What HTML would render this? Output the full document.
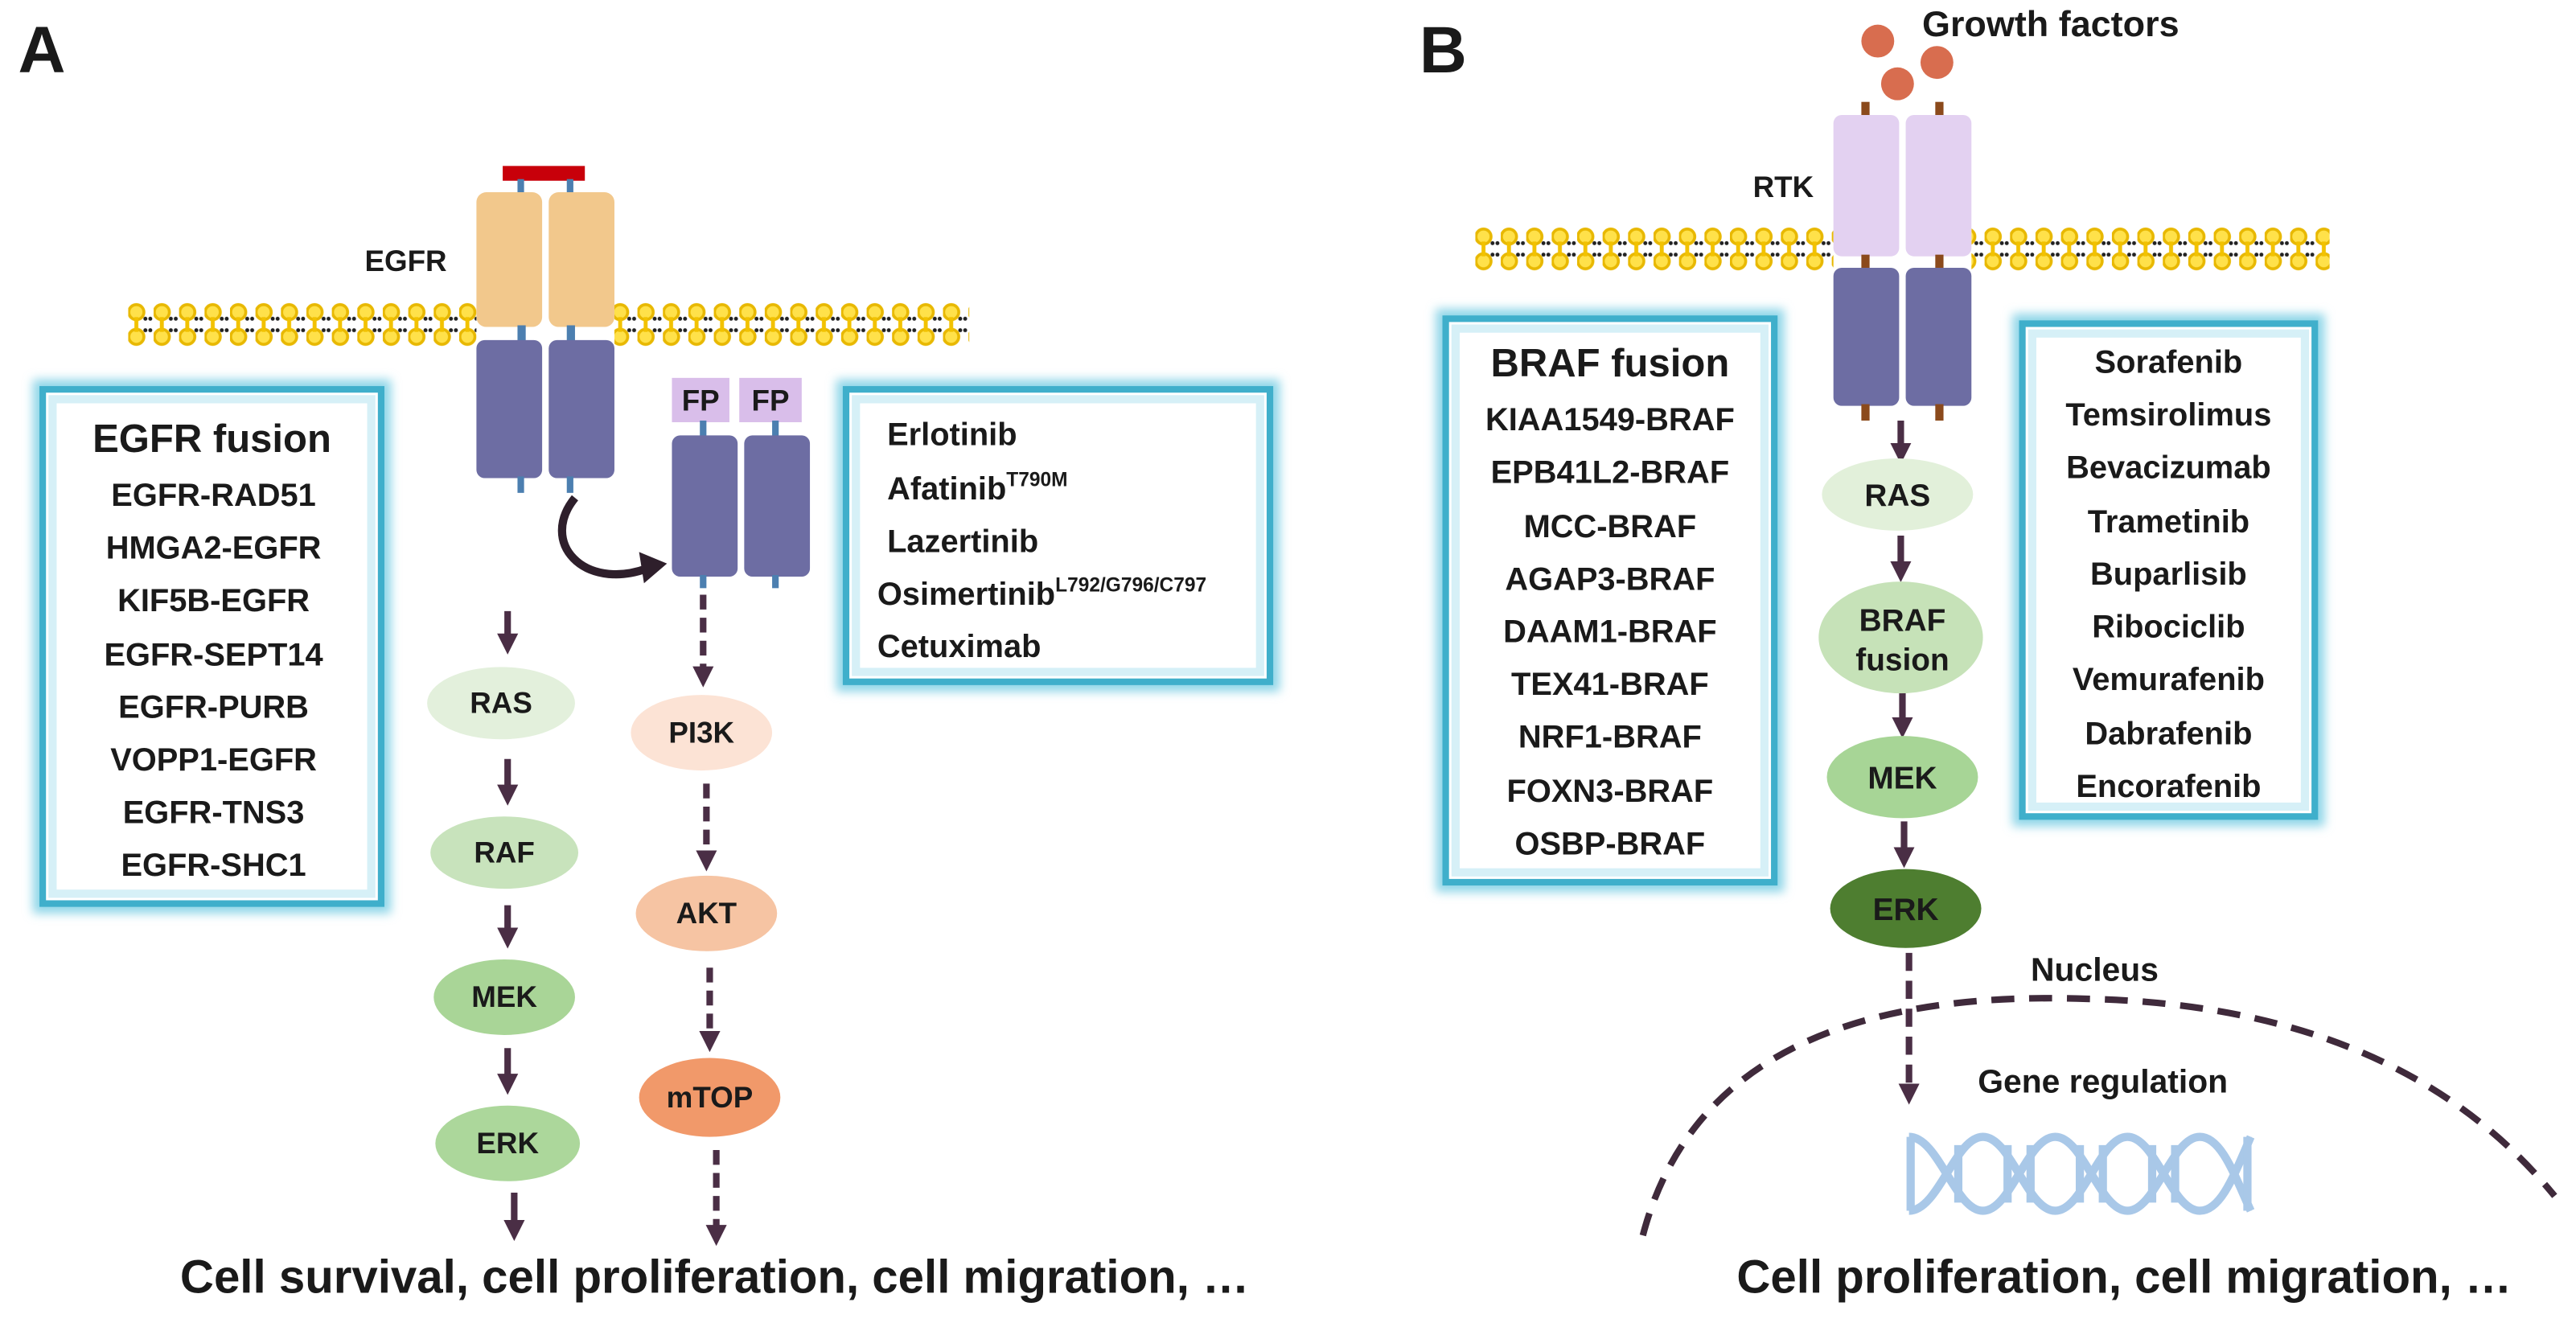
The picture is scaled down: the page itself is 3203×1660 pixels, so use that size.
<!DOCTYPE html>
<html><head><meta charset="utf-8"><style>
html,body{margin:0;padding:0;background:#fff;}
svg{display:block;}
text{font-family:"Liberation Sans",Arial,sans-serif;font-weight:bold;fill:#1a1a1a;}
</style></head><body>
<svg width="3203" height="1660" viewBox="0 0 1568 812.6" xmlns="http://www.w3.org/2000/svg">
<defs>
<filter id="blur" x="-10%" y="-10%" width="120%" height="120%"><feGaussianBlur stdDeviation="3"/></filter>
<g id="memcell">
<circle cx="5" cy="6" r="4.6" fill="#FFE14A" stroke="#E8B800" stroke-width="1.8"/>
<circle cx="5" cy="21" r="4.6" fill="#FFE14A" stroke="#E8B800" stroke-width="1.8"/>
<rect x="3.8" y="9" width="2.4" height="9" fill="#F2C200"/>
<circle cx="10.5" cy="10" r="1.2" fill="#222"/><circle cx="13.5" cy="10" r="1.2" fill="#222"/>
<circle cx="10.5" cy="17" r="1.2" fill="#222"/><circle cx="13.5" cy="17" r="1.2" fill="#222"/>
</g>
<pattern id="memA" x="78" y="184" width="15.5" height="30" patternUnits="userSpaceOnUse"><use href="#memcell"/></pattern>
<pattern id="memB" x="898" y="138" width="15.5" height="30" patternUnits="userSpaceOnUse"><use href="#memcell"/></pattern>
<marker id="ah" viewBox="0 0 10 10" refX="5" refY="5" markerWidth="3.2" markerHeight="3.2" orient="auto"><path d="M0,0 L10,5 L0,10 z" fill="#4A2E45"/></marker>
</defs>
<rect width="1568" height="812.6" fill="#fff"/>

<!-- Panel A -->
<text x="11" y="44" font-size="40" fill="#000">A</text>

<rect x="78" y="184" width="212" height="28" fill="url(#memA)"/>
<rect x="374" y="184" width="216" height="28" fill="url(#memA)"/>

<rect x="306" y="101" width="50" height="9" fill="#C8000A"/>
<rect x="315" y="109" width="4" height="9" fill="#4C7FB0"/>
<rect x="345" y="109" width="4" height="9" fill="#4C7FB0"/>
<rect x="290" y="117" width="40" height="82" rx="6" fill="#F2C88C"/>
<rect x="334" y="117" width="40" height="82" rx="6" fill="#F2C88C"/>
<rect x="315" y="198" width="5" height="10" fill="#4C7FB0"/>
<rect x="345" y="198" width="5" height="10" fill="#4C7FB0"/>
<rect x="290" y="207" width="40" height="84" rx="5" fill="#6D6DA3"/>
<rect x="334" y="207" width="40" height="84" rx="5" fill="#6D6DA3"/>
<rect x="315" y="290" width="4" height="10" fill="#4C7FB0"/>
<rect x="345" y="290" width="4" height="10" fill="#4C7FB0"/>
<text x="222" y="165" font-size="18">EGFR</text>

<path d="M350,303 C328,330 355,360 394,346" fill="none" stroke="#2E1F2B" stroke-width="5"/>
<path d="M389,336 L406,343 L392,355 z" fill="#2E1F2B"/>

<rect x="409" y="230" width="35" height="27" fill="#D9BEEA"/>
<rect x="450" y="230" width="38" height="27" fill="#D9BEEA"/>
<text x="426.5" y="250" font-size="18" text-anchor="middle">FP</text>
<text x="469" y="250" font-size="18" text-anchor="middle">FP</text>
<rect x="426" y="256" width="4" height="10" fill="#4C7FB0"/>
<rect x="470" y="256" width="4" height="10" fill="#4C7FB0"/>
<rect x="409" y="265" width="40" height="86" rx="5" fill="#6D6DA3"/>
<rect x="453" y="265" width="40" height="86" rx="5" fill="#6D6DA3"/>
<rect x="426" y="350" width="4" height="8" fill="#4C7FB0"/>
<rect x="470" y="350" width="4" height="8" fill="#4C7FB0"/>

<!-- boxes A -->
<g>
<rect x="26" y="237" width="206" height="313" fill="none" stroke="#8FD6E8" stroke-width="12" filter="url(#blur)"/>
<rect x="26" y="237" width="206" height="313" fill="#fff" stroke="#3FAFCB" stroke-width="4"/>
<rect x="32" y="243" width="194" height="301" fill="none" stroke="#D6F0F7" stroke-width="5"/>
</g>
<text x="129" y="275" font-size="24" text-anchor="middle">EGFR fusion</text>
<g font-size="19.5" text-anchor="middle">
<text x="130" y="308">EGFR-RAD51</text>
<text x="130" y="340">HMGA2-EGFR</text>
<text x="130" y="372">KIF5B-EGFR</text>
<text x="130" y="405">EGFR-SEPT14</text>
<text x="130" y="437">EGFR-PURB</text>
<text x="130" y="469">VOPP1-EGFR</text>
<text x="130" y="501">EGFR-TNS3</text>
<text x="130" y="533">EGFR-SHC1</text>
</g>
<g>
<rect x="515" y="237" width="258" height="178" fill="none" stroke="#8FD6E8" stroke-width="12" filter="url(#blur)"/>
<rect x="515" y="237" width="258" height="178" fill="#fff" stroke="#3FAFCB" stroke-width="4"/>
<rect x="521" y="243" width="246" height="166" fill="none" stroke="#D6F0F7" stroke-width="5"/>
</g>
<g font-size="19.5">
<text x="540" y="271">Erlotinib</text>
<text x="540" y="304">Afatinib<tspan font-size="12" dy="-8">T790M</tspan></text>
<text x="540" y="336">Lazertinib</text>
<text x="534" y="368">Osimertinib<tspan font-size="12" dy="-8">L792/G796/C797</tspan></text>
<text x="534" y="400">Cetuximab</text>
</g>

<!-- A pathway -->
<g stroke="#4A2E45" stroke-width="4" marker-end="url(#ah)">
<line x1="309" y1="372" x2="309" y2="392"/>
<line x1="309" y1="462" x2="309" y2="484"/>
<line x1="309" y1="551" x2="309" y2="571"/>
<line x1="309" y1="638" x2="309" y2="660"/>
<line x1="313" y1="726" x2="313" y2="749"/>
</g>
<g stroke="#4A2E45" stroke-width="4" stroke-dasharray="9,5" marker-end="url(#ah)">
<line x1="428" y1="362" x2="428" y2="412"/>
<line x1="430" y1="477" x2="430" y2="524"/>
<line x1="432" y1="589" x2="432" y2="634"/>
<line x1="436" y1="700" x2="436" y2="752"/>
</g>
<ellipse cx="305" cy="428" rx="45" ry="22" fill="#E3F0DC"/>
<ellipse cx="307" cy="519" rx="45" ry="22" fill="#C8E3BC"/>
<ellipse cx="307" cy="607" rx="43" ry="23" fill="#A9D597"/>
<ellipse cx="309" cy="696" rx="44" ry="23" fill="#ACD79B"/>
<ellipse cx="427" cy="446" rx="43" ry="23" fill="#FCE3D5"/>
<ellipse cx="430" cy="556" rx="43" ry="23" fill="#F6C4A3"/>
<ellipse cx="432" cy="668" rx="43" ry="24" fill="#F1996A"/>
<g font-size="18" text-anchor="middle">
<text x="305" y="434">RAS</text>
<text x="307" y="525">RAF</text>
<text x="307" y="613">MEK</text>
<text x="309" y="702">ERK</text>
<text x="427" y="452">PI3K</text>
<text x="430" y="562">AKT</text>
<text x="432" y="674">mTOP</text>
</g>
<text x="435" y="787" font-size="28.5" text-anchor="middle">Cell survival, cell proliferation, cell migration, …</text>

<!-- Panel B -->
<text x="864" y="44" font-size="40" fill="#000">B</text>
<text x="1170" y="22" font-size="22">Growth factors</text>
<circle cx="1143" cy="25" r="10" fill="#D86D4F"/>
<circle cx="1155" cy="51" r="10" fill="#D86D4F"/>
<circle cx="1179" cy="38" r="10" fill="#D86D4F"/>

<rect x="898" y="138" width="218" height="28" fill="url(#memB)"/>
<rect x="1200" y="138" width="218" height="28" fill="url(#memB)"/>
<rect x="1133" y="62" width="5" height="9" fill="#8B4A1C"/>
<rect x="1178" y="62" width="5" height="9" fill="#8B4A1C"/>
<rect x="1116" y="70" width="40" height="86" rx="5" fill="#E3D1F1"/>
<rect x="1160" y="70" width="40" height="86" rx="5" fill="#E3D1F1"/>
<rect x="1133" y="155" width="5" height="9" fill="#8B4A1C"/>
<rect x="1178" y="155" width="5" height="9" fill="#8B4A1C"/>
<rect x="1116" y="163" width="40" height="84" rx="5" fill="#6D6DA3"/>
<rect x="1160" y="163" width="40" height="84" rx="5" fill="#6D6DA3"/>
<rect x="1133" y="246" width="5" height="10" fill="#8B4A1C"/>
<rect x="1178" y="246" width="5" height="10" fill="#8B4A1C"/>
<text x="1067" y="120" font-size="18">RTK</text>

<g>
<rect x="880" y="194" width="200" height="343" fill="none" stroke="#8FD6E8" stroke-width="12" filter="url(#blur)"/>
<rect x="880" y="194" width="200" height="343" fill="#fff" stroke="#3FAFCB" stroke-width="4"/>
<rect x="886" y="200" width="188" height="331" fill="none" stroke="#D6F0F7" stroke-width="5"/>
</g>
<text x="980" y="229" font-size="24" text-anchor="middle">BRAF fusion</text>
<g font-size="19.5" text-anchor="middle">
<text x="980" y="262">KIAA1549-BRAF</text>
<text x="980" y="294">EPB41L2-BRAF</text>
<text x="980" y="327">MCC-BRAF</text>
<text x="980" y="359">AGAP3-BRAF</text>
<text x="980" y="391">DAAM1-BRAF</text>
<text x="980" y="423">TEX41-BRAF</text>
<text x="980" y="455">NRF1-BRAF</text>
<text x="980" y="488">FOXN3-BRAF</text>
<text x="980" y="520">OSBP-BRAF</text>
</g>
<g>
<rect x="1231" y="197" width="178" height="300" fill="none" stroke="#8FD6E8" stroke-width="12" filter="url(#blur)"/>
<rect x="1231" y="197" width="178" height="300" fill="#fff" stroke="#3FAFCB" stroke-width="4"/>
<rect x="1237" y="203" width="166" height="288" fill="none" stroke="#D6F0F7" stroke-width="5"/>
</g>
<g font-size="19.5" text-anchor="middle">
<text x="1320" y="227">Sorafenib</text>
<text x="1320" y="259">Temsirolimus</text>
<text x="1320" y="291">Bevacizumab</text>
<text x="1320" y="324">Trametinib</text>
<text x="1320" y="356">Buparlisib</text>
<text x="1320" y="388">Ribociclib</text>
<text x="1320" y="420">Vemurafenib</text>
<text x="1320" y="453">Dabrafenib</text>
<text x="1320" y="485">Encorafenib</text>
</g>

<g stroke="#4A2E45" stroke-width="4" marker-end="url(#ah)">
<line x1="1157" y1="256" x2="1157" y2="276"/>
<line x1="1157" y1="326" x2="1157" y2="348"/>
<line x1="1158" y1="421" x2="1158" y2="443"/>
<line x1="1159" y1="500" x2="1159" y2="522"/>
</g>
<line x1="1162" y1="580" x2="1162" y2="666" stroke="#4A2E45" stroke-width="4" stroke-dasharray="11,6" marker-end="url(#ah)"/>
<ellipse cx="1155" cy="301" rx="46" ry="22" fill="#E2F0DA"/>
<ellipse cx="1157" cy="388" rx="50" ry="34" fill="#C6E2B8"/>
<ellipse cx="1158" cy="473" rx="46" ry="25" fill="#A7D596"/>
<ellipse cx="1160" cy="553" rx="46" ry="24" fill="#4E7E30"/>
<g font-size="19" text-anchor="middle">
<text x="1155" y="308">RAS</text>
<text x="1158" y="384">BRAF</text>
<text x="1158" y="408">fusion</text>
<text x="1158" y="480">MEK</text>
<text x="1160" y="560">ERK</text>
</g>
<path d="M1000,752 Q1040,600 1270,608 Q1460,612 1555,728" fill="none" stroke="#3F2A3B" stroke-width="4" stroke-dasharray="14,9"/>
<text x="1275" y="597" font-size="20" text-anchor="middle">Nucleus</text>
<text x="1280" y="665" font-size="20" text-anchor="middle">Gene regulation</text>
<g fill="none" stroke="#A9C8E8" stroke-width="5">
<path d="M1162,692 C1180,692 1190,737 1207,737 C1224,737 1234,692 1251,692 C1268,692 1278,737 1295,737 C1312,737 1322,692 1339,692 C1352,692 1360,715 1370,737"/>
<path d="M1162,737 C1180,737 1190,692 1207,692 C1224,692 1234,737 1251,737 C1268,737 1278,692 1295,692 C1312,692 1322,737 1339,737 C1352,737 1360,715 1370,692"/>
<line x1="1163" y1="692" x2="1163" y2="737"/>
<line x1="1192" y1="697" x2="1192" y2="732"/>
<line x1="1222" y1="697" x2="1222" y2="732"/>
<line x1="1236" y1="697" x2="1236" y2="732"/>
<line x1="1266" y1="697" x2="1266" y2="732"/>
<line x1="1280" y1="697" x2="1280" y2="732"/>
<line x1="1310" y1="697" x2="1310" y2="732"/>
<line x1="1324" y1="697" x2="1324" y2="732"/>
<line x1="1368" y1="692" x2="1368" y2="737"/>
</g>
<text x="1293" y="787" font-size="28.5" text-anchor="middle">Cell proliferation, cell migration, …</text>
</svg>
</body></html>
